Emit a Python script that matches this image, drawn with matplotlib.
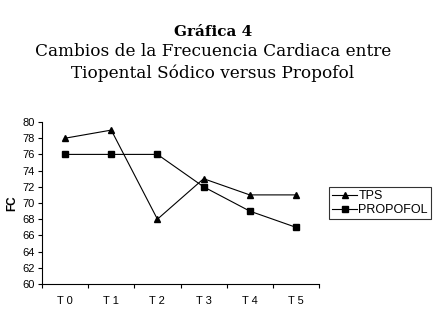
import numpy as np
import matplotlib
matplotlib.use('Agg')
from matplotlib import pyplot as plt

# ----- DATA ----- #
momentos = ['T 0', 'T 1', 'T 2', 'T 3', 'T 4', 'T 5']
fc_tps = [78, 79, 68, 73, 71, 71]
fc_propofol = [76, 76, 76, 72, 69, 67]
y_ticks = list(range(60, 81, 2))

# ----- PLOT ----- #
fig = plt.figure(figsize=(4.45, 3.16), dpi=100)
ax = fig.add_axes([42 / 445, 1 - 284 / 316, (319 - 42) / 445, (284 - 122) / 316])

x = np.arange(len(momentos))
ax.plot(x, fc_tps, color='black', lw=0.8, marker='^', ms=5, label='TPS')
ax.plot(x, fc_propofol, color='black', lw=0.8, marker='s', ms=4.8, label='PROPOFOL')

ax.set_xlim(-0.5, len(momentos) - 0.5)
ax.set_ylim(60, 80)
ax.set_yticks(y_ticks)
ax.set_xticks(x)
ax.set_xticklabels(momentos)
ax.set_xticks(np.arange(-0.5, len(momentos)), minor=True)
ax.tick_params(axis='x', which='major', length=0, pad=9)
ax.tick_params(axis='x', which='minor', length=3, width=0.8, direction='out')
ax.tick_params(axis='y', length=3, width=0.8, direction='out', pad=2)
for lab in ax.get_xticklabels() + ax.get_yticklabels():
    lab.set_fontfamily('Liberation Sans')
    lab.set_fontsize(8)

ax.spines['top'].set_visible(False)
ax.spines['right'].set_visible(False)
ax.spines['left'].set_linewidth(0.8)
ax.spines['bottom'].set_linewidth(0.8)

ax.set_ylabel('FC', fontfamily='Liberation Sans', fontweight='bold', fontsize=8.5, labelpad=3)

leg = ax.legend(loc='upper left', bbox_to_anchor=(329 / 445, 1 - 187 / 316), bbox_transform=fig.transFigure,
                prop={'family': 'Liberation Sans', 'size': 9}, frameon=True, fancybox=False,
                edgecolor='black', borderpad=0.25, handlelength=2.0, handletextpad=0.1,
                labelspacing=0.15, borderaxespad=0, markerscale=0.9)
leg.get_frame().set_linewidth(0.8)

# Titles
fig.text(213 / 445, 1 - 32 / 316, 'Gráfica 4', ha='center', va='center',
         fontfamily='DejaVu Serif', fontweight='bold', fontsize=11)
fig.text(213 / 445, 1 - 52 / 316, 'Cambios de la Frecuencia Cardiaca entre', ha='center', va='center',
         fontfamily='DejaVu Serif', fontsize=12.2)
fig.text(213 / 445, 1 - 73 / 316, 'Tiopental Sódico versus Propofol', ha='center', va='center',
         fontfamily='DejaVu Serif', fontsize=12.2)

plt.savefig('out.png', dpi=100)
